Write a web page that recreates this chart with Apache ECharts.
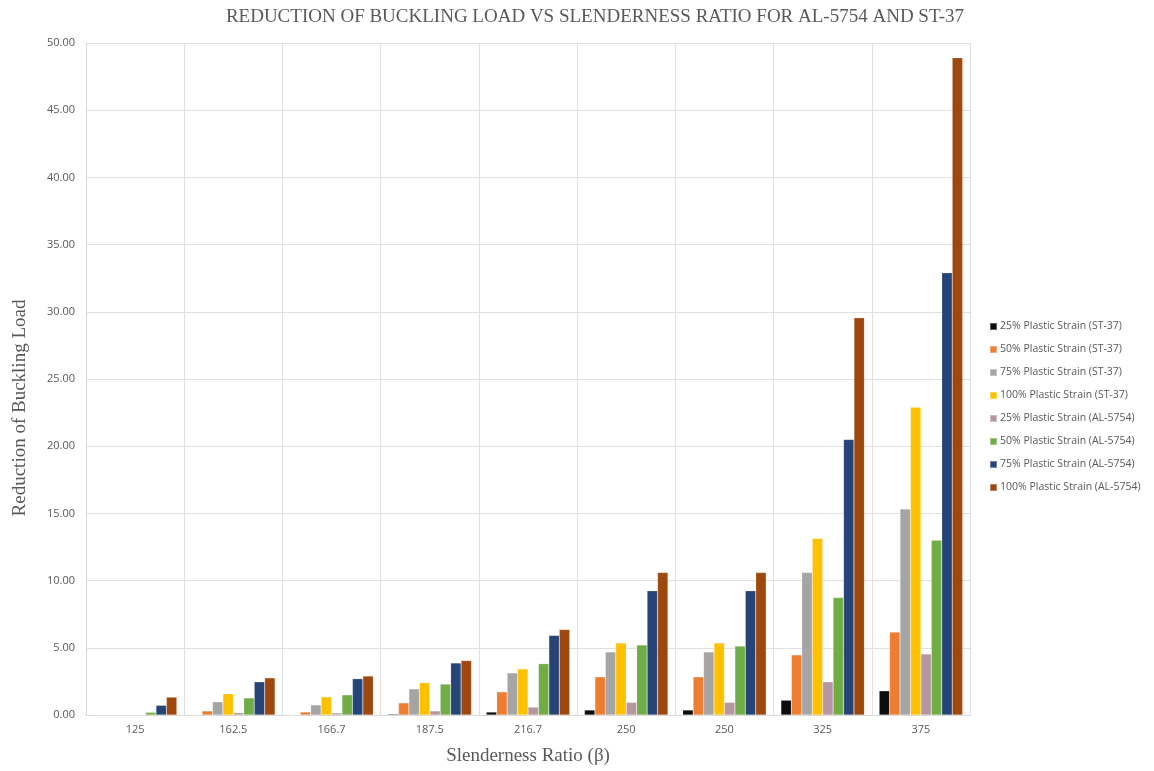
<!DOCTYPE html>
<html>
<head>
<meta charset="utf-8">
<script src="https://cdn.jsdelivr.net/npm/echarts@6/dist/echarts.min.js"></script>
<style>
  html, body { margin: 0; padding: 0; background: #fff; }
  #chart { width: 1154px; height: 771px; }
</style>
</head>
<body>
<div id="chart"></div>
<script>
// Slenderness ratio categories
const slenderness = ['125', '162.5', '166.7', '187.5', '216.7', '250', '250', '325', '375'];

// Reduction of buckling load per plastic strain level
const st37_25 = [0.00, 0.00, 0.00, 0.07, 0.22, 0.37, 0.37, 1.10, 1.80];
const st37_50 = [0.00, 0.30, 0.22, 0.90, 1.72, 2.84, 2.84, 4.47, 6.17];
const st37_75 = [0.00, 0.98, 0.75, 1.94, 3.13, 4.69, 4.69, 10.60, 15.33];
const st37_100 = [0.00, 1.58, 1.35, 2.40, 3.43, 5.36, 5.36, 13.13, 22.90];
const al_25 = [0.00, 0.17, 0.15, 0.30, 0.59, 0.94, 0.94, 2.47, 4.54];
const al_50 = [0.20, 1.27, 1.50, 2.30, 3.82, 5.21, 5.13, 8.74, 13.00];
const al_75 = [0.72, 2.47, 2.70, 3.87, 5.92, 9.24, 9.24, 20.50, 32.90];
const al_100 = [1.33, 2.76, 2.90, 4.05, 6.36, 10.60, 10.60, 29.55, 48.90];

const yTicks = { min: 0, max: 50, interval: 5 };

const seriesDefs = [
  ['25% Plastic Strain (ST-37)', st37_25, '#0d0d0d'],
  ['50% Plastic Strain (ST-37)', st37_50, '#ed7d31'],
  ['75% Plastic Strain (ST-37)', st37_75, '#a5a5a5'],
  ['100% Plastic Strain (ST-37)', st37_100, '#ffc000'],
  ['25% Plastic Strain (AL-5754)', al_25, '#b7979f'],
  ['50% Plastic Strain (AL-5754)', al_50, '#70ad47'],
  ['75% Plastic Strain (AL-5754)', al_75, '#264478'],
  ['100% Plastic Strain (AL-5754)', al_100, '#9e480e']
];

const serif = '"Liberation Serif", "DejaVu Serif", serif';
const sans = '"Open Sans", "Noto Sans", sans-serif';

const chart = echarts.init(document.getElementById('chart'), null, { renderer: 'canvas' });

chart.setOption({
  animation: false,
  backgroundColor: '#ffffff',
  title: {
    text: 'REDUCTION OF BUCKLING LOAD VS SLENDERNESS RATIO FOR AL-5754 AND ST-37',
    left: 590,
    textAlign: 'center',
    top: 3,
    textStyle: {
      fontFamily: serif,
      fontSize: 19,
      fontWeight: 'normal',
      color: '#595959'
    }
  },
  legend: {
    orient: 'vertical',
    left: 984,
    top: 316,
    itemWidth: 7,
    itemHeight: 7,
    itemGap: 12,
    icon: 'rect',
    textStyle: {
      fontFamily: sans,
      fontSize: 10.5,
      color: '#595959',
      padding: [0, 0, 0, -2]
    },
    data: seriesDefs.map(d => d[0])
  },
  grid: {
    left: 86,
    right: 184,
    top: 43,
    bottom: 53,
    containLabel: false
  },
  xAxis: {
    type: 'category',
    data: slenderness,
    name: 'Slenderness Ratio (\u03b2)',
    nameLocation: 'middle',
    nameGap: 32,
    nameTextStyle: {
      fontFamily: serif,
      fontSize: 19,
      color: '#595959'
    },
    axisLine: { show: true, lineStyle: { color: '#d9d9d9', width: 1 } },
    axisTick: { show: false },
    axisLabel: {
      fontFamily: sans,
      fontSize: 11,
      color: '#595959',
      margin: 9
    },
    splitLine: { show: true, lineStyle: { color: '#e0e0e0', width: 1 } }
  },
  yAxis: {
    type: 'value',
    min: yTicks.min,
    max: yTicks.max,
    interval: yTicks.interval,
    name: 'Reduction of Buckling Load',
    nameLocation: 'middle',
    nameRotate: 90,
    nameGap: 56,
    nameTextStyle: {
      fontFamily: serif,
      fontSize: 19,
      color: '#595959',
      padding: [0, 58, 0, 0]
    },
    axisLine: { show: true, lineStyle: { color: '#d9d9d9', width: 1 } },
    axisTick: { show: false },
    axisLabel: {
      fontFamily: sans,
      fontSize: 11,
      color: '#595959',
      margin: 11,
      formatter: v => v.toFixed(2)
    },
    splitLine: { show: true, lineStyle: { color: '#e0e0e0', width: 1 } }
  },
  series: seriesDefs.map(d => ({
    name: d[0],
    type: 'bar',
    data: d[1],
    barGap: '0%',
    barCategoryGap: '15%',
    itemStyle: { color: d[2], borderColor: 'rgba(255,255,255,0.35)', borderWidth: 0.5 }
  }))
});
</script>
</body>
</html>
